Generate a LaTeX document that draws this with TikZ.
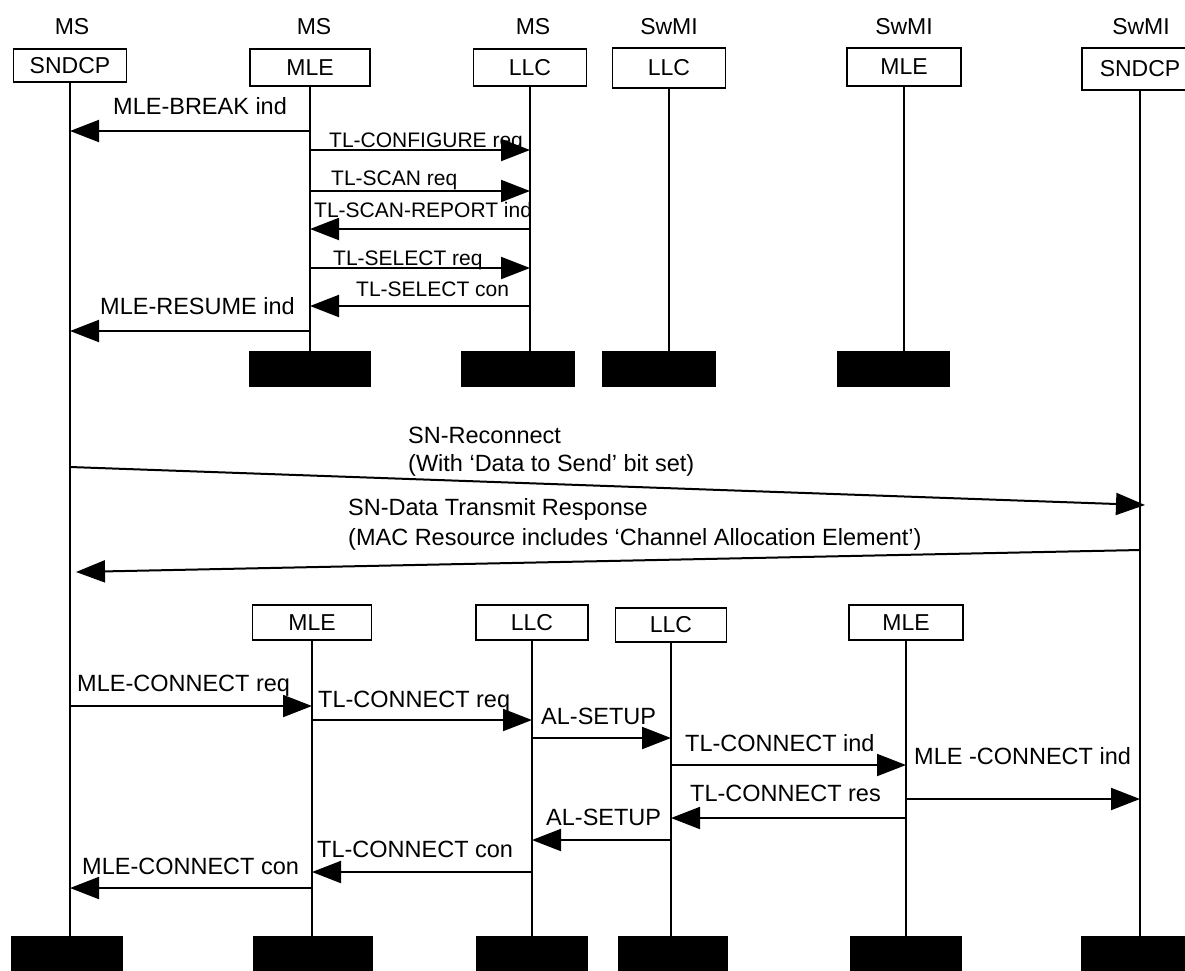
\documentclass[tikz,border=0pt]{standalone}
\usepackage{fontspec}
\setmainfont{Liberation Sans}
\usetikzlibrary{arrows.meta}
\newcommand\seqmsg[4]{%
  \coordinate (#1a) at (#2 |- 0,#4);
  \coordinate (#1b) at (#3 |- 0,#4);
  \draw[msg] (#1a) -- (#1b);}
\begin{document}
\begin{tikzpicture}[x=1pt,y=-1pt,
  lbl/.style={font=\fontsize{23.5}{27}\selectfont, inner sep=0pt, anchor=base west},
  slbl/.style={font=\fontsize{21}{25}\selectfont, inner sep=0pt, anchor=base west},
  hdr/.style={font=\fontsize{23}{27}\selectfont, inner sep=0pt},
  ent/.style={draw, line width=1.8pt, fill=white, font=\fontsize{23}{27}\selectfont, inner sep=0pt},
  blk/.style={fill=black, draw=none, inner sep=0pt},
  life/.style={line width=1.8pt},
  msg/.style={line width=2pt, -{Triangle[length=29pt,width=22pt]}},
]
\useasboundingbox (0,0) rectangle (1185,970);
\clip (0,0) rectangle (1185,970);
\fill[white] (0,0) rectangle (1185,970);

% headers
\node[hdr] (h1) at (72,27) {MS};
\node[hdr] (h2) at (314,27) {MS};
\node[hdr] (h3) at (533,27) {MS};
\node[hdr] (h4) at (669,27) {SwMI};
\node[hdr] (h5) at (904,27) {SwMI};
\node[hdr] (h6) at (1141,27) {SwMI};

% black terminator boxes
\node[blk, minimum width=122pt, minimum height=36pt] (tB) at (310,369) {};
\node[blk, minimum width=114pt, minimum height=36pt] (tC) at (518,369) {};
\node[blk, minimum width=114pt, minimum height=36pt] (tD) at (659,369) {};
\node[blk, minimum width=113pt, minimum height=36pt] (tE) at (893.5,369) {};

\node[blk, minimum width=112pt, minimum height=39pt] (BA) at (67,955.5) {};
\node[blk, minimum width=120pt, minimum height=39pt] (BB) at (313,955.5) {};
\node[blk, minimum width=112pt, minimum height=39pt] (BC) at (532,955.5) {};
\node[blk, minimum width=110pt, minimum height=39pt] (BD) at (673,955.5) {};
\node[blk, minimum width=112pt, minimum height=39pt] (BE) at (906,955.5) {};
\node[blk, minimum width=116pt, minimum height=39pt] (BF) at (1139,955.5) {};

% top entity boxes
\node[ent, minimum width=113pt, minimum height=33pt] (sndA) at (70,65.5) {SNDCP};
\node[ent, minimum width=120pt, minimum height=37pt] (mleB) at (310,67.5) {MLE};
\node[ent, minimum width=113pt, minimum height=37pt] (llcC) at (530,67.5) {LLC};
\node[ent, minimum width=113pt, minimum height=40pt] (llcD) at (669,68) {LLC};
\node[ent, minimum width=114pt, minimum height=38pt] (mleE) at (904,67) {MLE};
\node[ent, minimum width=116pt, minimum height=42pt] (sndF) at (1140,69) {SNDCP};

% bottom entity boxes
\node[ent, minimum width=119pt, minimum height=35pt] (mleB2) at (312,622.5) {MLE};
\node[ent, minimum width=112pt, minimum height=35pt] (llcC2) at (532,622.5) {LLC};
\node[ent, minimum width=111pt, minimum height=34pt] (llcD2) at (671,625) {LLC};
\node[ent, minimum width=114pt, minimum height=35pt] (mleE2) at (906,622.5) {MLE};

% lifelines
\draw[life] (sndA.south) -- (sndA.south |- BA.north);
\draw[life] (sndF.south) -- (sndF.south |- BF.north);
\draw[life] (mleB.south) -- (mleB.south |- tB.north);
\draw[life] (llcC.south) -- (llcC.south |- tC.north);
\draw[life] (llcD.south) -- (llcD.south |- tD.north);
\draw[life] (mleE.south) -- (mleE.south |- tE.north);
\draw[life] (mleB2.south) -- (mleB2.south |- BB.north);
\draw[life] (llcC2.south) -- (llcC2.south |- BC.north);
\draw[life] (llcD2.south) -- (llcD2.south |- BD.north);
\draw[life] (mleE2.south) -- (mleE2.south |- BE.north);

% top section messages
\seqmsg{t1}{mleB}{sndA}{131}
\node[lbl] (l1) at (113,114.5) {MLE-BREAK ind};
\seqmsg{t2}{mleB}{llcC}{150}
\node[slbl] (l2) at (329,147.5) {TL-CONFIGURE req};
\seqmsg{t3}{mleB}{llcC}{191}
\node[slbl] (l3) at (331,185.5) {TL-SCAN req};
\seqmsg{t4}{llcC}{mleB}{229}
\node[slbl] (l4) at (314,217.5) {TL-SCAN-REPORT ind};
\seqmsg{t5}{mleB}{llcC}{268}
\node[slbl] (l5) at (333,265.5) {TL-SELECT req};
\seqmsg{t6}{llcC}{mleB}{306}
\node[slbl] (l6) at (356,296.5) {TL-SELECT con};
\seqmsg{t7}{mleB}{sndA}{331}
\node[lbl] (l7) at (100,314.5) {MLE-RESUME ind};

% SN messages
\coordinate (r1a) at (sndA |- 0,467);
\coordinate (r1b) at (1145,505);
\draw[msg] (r1a) -- (r1b);
\node[lbl] (l8) at (408,443.5) {SN-Reconnect};
\node[lbl] (l9) at (408,471.5) {(With ‘Data to Send’ bit set)};
\coordinate (r2a) at (sndF |- 0,550);
\coordinate (r2b) at (76,572);
\draw[msg] (r2a) -- (r2b);
\node[lbl] (l10) at (348,515.5) {SN-Data Transmit Response};
\node[lbl] (l11) at (348,545.5) {(MAC Resource includes ‘Channel Allocation Element’)};

% bottom section messages
\seqmsg{b1}{sndA}{mleB2}{706}
\node[lbl] (l12) at (77,691.5) {MLE-CONNECT req};
\seqmsg{b2}{mleB2}{llcC2}{720}
\node[lbl] (l13) at (318,707.5) {TL-CONNECT req};
\seqmsg{b3}{llcC2}{llcD2}{738}
\node[lbl] (l14) at (541,724.5) {AL-SETUP};
\seqmsg{b4}{llcD2}{mleE2}{765}
\node[lbl] (l15) at (685,751.5) {TL-CONNECT ind};
\seqmsg{b5}{mleE2}{sndF}{799}
\node[lbl] (l16) at (914,764.5) {MLE -CONNECT ind};
\seqmsg{b6}{mleE2}{llcD2}{818}
\node[lbl] (l17) at (690,801.5) {TL-CONNECT res};
\seqmsg{b7}{llcD2}{llcC2}{840}
\node[lbl] (l18) at (546,825.5) {AL-SETUP};
\seqmsg{b8}{llcC2}{mleB2}{872}
\node[lbl] (l19) at (317,857.5) {TL-CONNECT con};
\seqmsg{b9}{mleB2}{sndA}{888}
\node[lbl] (l20) at (82,874.5) {MLE-CONNECT con};
\end{tikzpicture}
\end{document}
